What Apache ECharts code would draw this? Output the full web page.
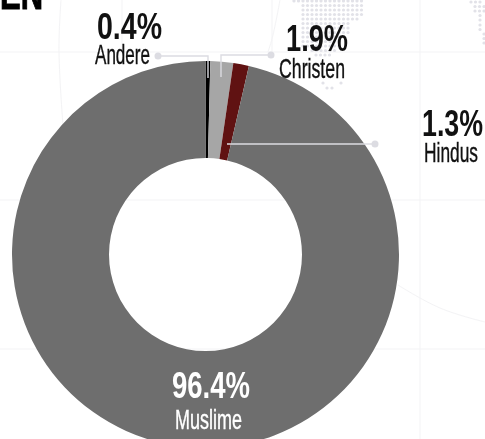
<!DOCTYPE html>
<html><head><meta charset="utf-8">
<style>html,body{margin:0;padding:0;background:#fff}#c{width:485px;height:439px}</style>
<script src="https://cdn.jsdelivr.net/npm/echarts@6/dist/echarts.min.js"></script>
</head><body><div id="c"></div>
<script>
const groups = ['Andere', 'Christen', 'Hindus', 'Muslime'];
const shares = [0.4, 1.9, 1.3, 96.4];
const colors = ['#000000', '#a6a6a6', '#601212', '#6e6e6e'];
const titleTail = 'EN';

const FONT = '"Liberation Sans Narrow","Liberation Sans",sans-serif';
const ctx = document.createElement('canvas').getContext('2d');
function fit(text, left, right, midY, size, weight, fill, thick) {
  ctx.font = weight + ' ' + size + 'px ' + FONT;
  const w = ctx.measureText(text).width;
  return {type:'text', x:left, y:midY, scaleX:(right-left)/w, z:10,
    style:{text, fill, font:ctx.font, align:'left', verticalAlign:'middle', stroke:thick?fill:null, lineWidth:thick||0}};
}
const GRID = '#f3f3f5', LEAD = '#dcdce2';
const bg = [];
[[0,52,485,52],[0,200,485,200],[0,349,485,349],[122,0,122,52],[272,0,272,52],[420,0,420,439]].forEach(l=>
  bg.push({type:'line',z:0,shape:{x1:l[0],y1:l[1],x2:l[2],y2:l[3]},style:{stroke:GRID,lineWidth:1}}));
bg.push({type:'polyline',z:0,shape:{smooth:0.4,points:[[61,0],[59,52],[63,125]]},style:{stroke:GRID,fill:null,lineWidth:1}});
bg.push({type:'polyline',z:0,shape:{smooth:0.4,points:[[280,0],[273,35],[268,52]]},style:{stroke:GRID,fill:null,lineWidth:1}});
bg.push({type:'polyline',z:0,shape:{smooth:0.4,points:[[398,285],[440,308],[485,322]]},style:{stroke:GRID,fill:null,lineWidth:1}});
// decorative dotted map fragments: [y, xStart, xEnd]
const rows = [[1,294,365],[5.5,303,365],[10,303,365],[14.5,303,365],[19,303,361],[23.5,303,352],[28,303,352],[32.5,303,348],[37,303,343],[41.5,303,339],[46,303,339],[50.5,312,335],[55,316,330],
 [2,471,484],[6.5,475,484],[11,475,484],[15.5,480,484],[20,480,484],[25,480,484],[29.5,480,484],[34,484,484],[38.5,484,484],[43,484,484]];
rows.forEach(r=>{for(let x=r[1];x<=r[2];x+=4.5)bg.push({type:'circle',z:0,shape:{cx:x,cy:r[0],r:1.6},style:{fill:'#e2e2e8'}});});
[[323,83],[341,83],[327,88],[332,88]].forEach(p=>bg.push({type:'circle',z:0,shape:{cx:p[0],cy:p[1],r:1.6},style:{fill:'#e2e2e8'}}));

const leaders = [
  {pts:[[158,56],[208,56],[208,78]]},
  {pts:[[271,55],[221,55],[221,77]]},
  {pts:[[375,144],[227,144]]}
];
const lead = [];
leaders.forEach(l=>{
  lead.push({type:'polyline',z:8,shape:{points:l.pts},style:{stroke:LEAD,fill:null,lineWidth:1.4}});
  lead.push({type:'circle',z:8,shape:{cx:l.pts[0][0],cy:l.pts[0][1],r:3.5},style:{fill:LEAD}});
});
const pct = i => shares[i].toFixed(1)+'%';
const texts = [
  fit(titleTail,0,43,-3,44,'bold','#000',1),
  fit(pct(0),97,162,28.5,37,'bold','#111'), fit(groups[0],95,150,56.5,28,'normal','#111',0.4),
  fit(pct(1),286,348,40.5,37,'bold','#111'), fit(groups[1],279,345,70,28,'normal','#111',0.4),
  fit(pct(2),422,483,125.5,37,'bold','#111'), fit(groups[2],424,478,154,28,'normal','#111',0.4),
  fit(pct(3),172,250,388,37,'bold','#fff'), fit(groups[3],175,242,421,28,'normal','#fff',0.4)
];
const chart = echarts.init(document.getElementById('c'),null,{renderer:'canvas'});
chart.setOption({
  animation:false, backgroundColor:'#fff',
  graphic:{elements:bg.concat(lead,texts)},
  series:[{type:'pie',z:5,center:[205.5,254.5],radius:[96.5,193.5],startAngle:90,clockwise:true,
    label:{show:false},labelLine:{show:false},silent:true,minAngle:0,avoidLabelOverlap:false,
    data:groups.map((g,i)=>({name:g,value:shares[i],itemStyle:{color:colors[i]}}))}]
});
</script></body></html>
